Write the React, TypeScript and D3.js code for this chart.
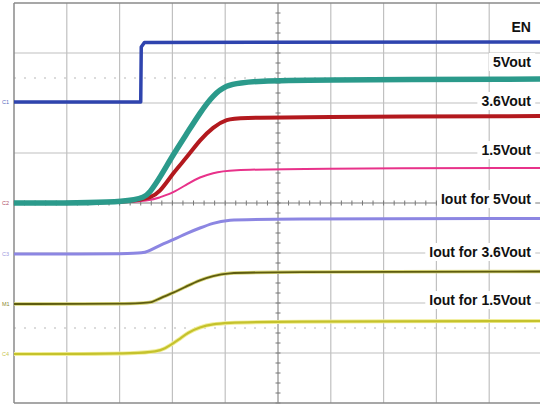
import React, { useEffect, useRef } from "react";
import * as d3 from "d3";

// time axis in divisions (0..10), amplitude in divisions from screen centre (-4..4)
const enTime = [0, 2.4, 2.41, 2.47, 10];
const enLevel = [2.02, 2.02, 3.12, 3.21, 3.22];

const v5Time = [0, 2.39, 2.58, 2.77, 3.01, 3.28, 3.52, 3.77, 4.03, 4.28, 4.66, 5.42, 10];
const v5Level = [0, 0, 0.22, 0.52, 0.96, 1.4, 1.8, 2.16, 2.36, 2.4, 2.44, 2.46, 2.48];

const v36Time = [0, 2.48, 2.77, 3.01, 3.28, 3.52, 3.77, 4.03, 4.28, 5.42, 10];
const v36Level = [0, 0, 0.22, 0.6, 0.92, 1.26, 1.52, 1.68, 1.7, 1.72, 1.74];

const v15Time = [0, 2.48, 2.77, 3.01, 3.28, 3.52, 3.77, 4.03, 5.42, 10];
const v15Level = [0, 0, 0.12, 0.2, 0.38, 0.52, 0.6, 0.66, 0.69, 0.7];

const i5Time = [0, 2.39, 2.52, 2.77, 3.01, 3.28, 3.52, 3.77, 4.03, 4.66, 10];
const i5Level = [-1.02, -1.02, -0.98, -0.84, -0.74, -0.6, -0.5, -0.4, -0.34, -0.32, -0.31];

const i36Time = [0, 2.48, 2.63, 2.77, 3.01, 3.28, 3.52, 3.77, 4.03, 4.66, 10];
const i36Level = [-2.02, -2.02, -1.98, -1.9, -1.8, -1.66, -1.54, -1.46, -1.4, -1.38, -1.37];

const i15Time = [0, 2.58, 2.86, 3.14, 3.28, 3.52, 3.77, 4.03, 4.66, 10];
const i15Level = [-3.02, -3.02, -2.92, -2.72, -2.6, -2.48, -2.42, -2.4, -2.37, -2.36];

const labelTexts = ["EN", "5Vout", "3.6Vout", "1.5Vout", "Iout for 5Vout", "Iout for 3.6Vout", "Iout for 1.5Vout"];
const labelLevels = [3.52, 2.82, 2.04, 1.06, 0.08, -0.98, -1.94];

const markerTexts = ["C1", "C2", "C3", "M1", "C4"];
const markerLevels = [2.02, 0, -1.02, -2.02, -3.02];

const App: React.FC = () => {
  const svgRef = useRef<SVGSVGElement>(null);

  useEffect(() => {
    if (!svgRef.current) return;
    const svg = d3.select(svgRef.current);
    svg.selectAll("*").remove();

    const x = d3.scaleLinear().domain([0, 10]).range([14, 542]);
    const y = d3.scaleLinear().domain([-4, 4]).range([403, 3]);

    svg.append("rect").attr("width", 540).attr("height", 405).attr("fill", "#ffffff");

    // graticule
    const grid = svg.append("g");
    grid.selectAll("line.v")
      .data(d3.range(1, 10))
      .enter().append("line")
      .attr("x1", d => x(d)).attr("x2", d => x(d))
      .attr("y1", y(4)).attr("y2", y(-4))
      .attr("stroke", "#c0c0c0").attr("stroke-width", 1.2);
    grid.selectAll("line.h")
      .data(d3.range(-3, 4))
      .enter().append("line")
      .attr("x1", x(0)).attr("x2", x(10))
      .attr("y1", d => y(d)).attr("y2", d => y(d))
      .attr("stroke", "#c0c0c0").attr("stroke-width", 1.2);

    // centre axes with minor ticks
    grid.append("line")
      .attr("x1", x(5)).attr("x2", x(5)).attr("y1", y(4)).attr("y2", y(-4))
      .attr("stroke", "#9a9a9a").attr("stroke-width", 1);
    grid.append("line")
      .attr("x1", x(0)).attr("x2", x(10)).attr("y1", y(0)).attr("y2", y(0))
      .attr("stroke", "#9a9a9a").attr("stroke-width", 1);
    grid.selectAll("line.tx")
      .data(d3.range(0, 50))
      .enter().append("line")
      .attr("x1", d => x(d / 5)).attr("x2", d => x(d / 5))
      .attr("y1", y(0) - 2.5).attr("y2", y(0) + 2.5)
      .attr("stroke", "#777").attr("stroke-width", 1);
    grid.selectAll("line.ty")
      .data(d3.range(-20, 20))
      .enter().append("line")
      .attr("x1", x(5) - 2.5).attr("x2", x(5) + 2.5)
      .attr("y1", d => y(d / 5)).attr("y2", d => y(d / 5))
      .attr("stroke", "#777").attr("stroke-width", 1);

    // dotted cursor lines
    [2.5, -2.5].forEach(lv => {
      grid.append("line")
        .attr("x1", x(0)).attr("x2", x(10))
        .attr("y1", y(lv)).attr("y2", y(lv))
        .attr("stroke", "#b8b8b8").attr("stroke-width", 1.2)
        .attr("stroke-dasharray", "2,8");
    });

    // border
    grid.append("line").attr("x1", x(0)).attr("x2", x(0)).attr("y1", y(4)).attr("y2", y(-4))
      .attr("stroke", "#8a8a8a").attr("stroke-width", 1.5);
    grid.append("line").attr("x1", x(0)).attr("x2", x(10)).attr("y1", y(4)).attr("y2", y(4))
      .attr("stroke", "#8a8a8a").attr("stroke-width", 1.5);
    grid.append("line").attr("x1", x(0)).attr("x2", x(10)).attr("y1", y(-4)).attr("y2", y(-4))
      .attr("stroke", "#8a8a8a").attr("stroke-width", 1.5);

    const smooth = d3.line<[number, number]>()
      .x(d => x(d[0]))
      .y(d => y(d[1]))
      .curve(d3.curveBasis);
    const straight = d3.line<[number, number]>()
      .x(d => x(d[0]))
      .y(d => y(d[1]));

    const traces = [
      { t: i15Time, v: i15Level, color: "#f1ee9a", width: 4, step: false },
      { t: i15Time, v: i15Level, color: "#c5c22c", width: 2.2, step: false },
      { t: i36Time, v: i36Level, color: "#d9d77a", width: 3.5, step: false },
      { t: i36Time, v: i36Level, color: "#5e5c10", width: 1.8, step: false },
      { t: i5Time, v: i5Level, color: "#8c86e2", width: 3, step: false },
      { t: v15Time, v: v15Level, color: "#e8328a", width: 2, step: false },
      { t: v36Time, v: v36Level, color: "#b3191e", width: 4, step: false },
      { t: v5Time, v: v5Level, color: "#2b9a8b", width: 5.5, step: false },
      { t: enTime, v: enLevel, color: "#2f44ae", width: 3.5, step: true },
    ];

    traces.forEach(tr => {
      const pts = tr.t.map((t, i) => [t, tr.v[i]] as [number, number]);
      svg.append("path")
        .datum(pts)
        .attr("fill", "none")
        .attr("stroke", tr.color)
        .attr("stroke-width", tr.width)
        .attr("stroke-linejoin", "round")
        .attr("d", tr.step ? straight : smooth);
    });

    // channel markers at left edge
    const markerColors = ["#5a6ac0", "#b0506a", "#a09ae0", "#8a8830", "#c8c650"];
    markerTexts.forEach((m, i) => {
      svg.append("text")
        .attr("x", 2).attr("y", y(markerLevels[i]) + 2)
        .attr("font-family", "Liberation Sans, Arial, sans-serif")
        .attr("font-size", 5.5)
        .attr("fill", markerColors[i])
        .text(m);
    });

    // labels with white boxes
    const labels = svg.append("g");
    labelTexts.forEach((txt, i) => {
      const g = labels.append("g");
      const tx = g.append("text")
        .attr("x", x(9.79)).attr("y", y(labelLevels[i]))
        .attr("text-anchor", "end")
        .attr("dominant-baseline", "central")
        .attr("font-family", "Liberation Sans, Arial, sans-serif")
        .attr("font-weight", "bold")
        .attr("font-size", 14)
        .attr("fill", "#111")
        .text(txt);
      const bb = (tx.node() as SVGTextElement).getBBox();
      g.insert("rect", "text")
        .attr("x", bb.x - 4).attr("y", bb.y - 1)
        .attr("width", bb.width + 8).attr("height", bb.height + 2)
        .attr("fill", "#ffffff");
    });
  }, []);

  return (
    <div style={{ position: "fixed", left: 0, top: 0, width: 540, height: 405 }}>
      <svg ref={svgRef} width={540} height={405} style={{ display: "block" }} />
    </div>
  );
};

export default App;
